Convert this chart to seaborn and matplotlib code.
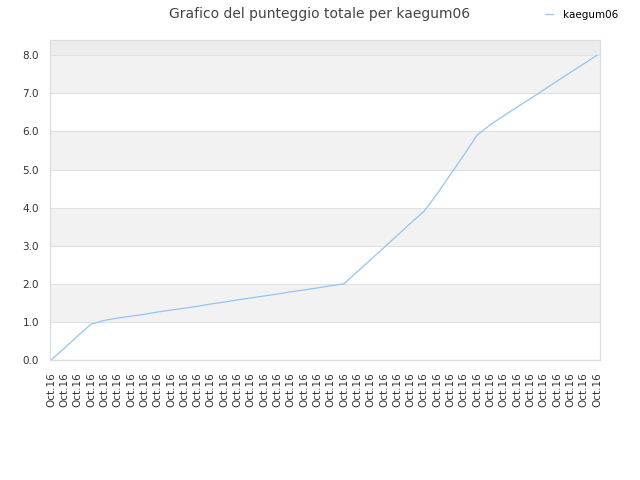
import matplotlib
matplotlib.use("Agg")
import matplotlib.pyplot as plt
import seaborn as sns
import pandas as pd

# data (42 points, all labelled Oct.16)
player = "kaegum06"
labels = ["Oct.16"] * 42
scores = [0.0, 0.31, 0.63, 0.94, 1.04, 1.10, 1.15, 1.20, 1.26, 1.31,
          1.36, 1.41, 1.47, 1.52, 1.58, 1.63, 1.68, 1.73, 1.79, 1.84,
          1.89, 1.95, 2.0, 2.32, 2.63, 2.95, 3.27, 3.59, 3.90, 4.36,
          4.87, 5.38, 5.90, 6.18, 6.41, 6.64, 6.86, 7.09, 7.32, 7.55,
          7.77, 8.0]
yticks = [0, 1, 2, 3, 4, 5, 6, 7, 8]

df = pd.DataFrame({"idx": range(len(scores)), "score": scores, "player": player})

sns.set_style("white")
plt.rcParams['font.family'] = ['DejaVu Sans']

fig = plt.figure(figsize=(6.4, 4.8), dpi=100)
ax = fig.add_axes([50 / 640, 1 - 360 / 480, 550 / 640, 320 / 480])

# alternating background bands
for lo in [1, 3, 5, 7]:
    ax.axhspan(lo, lo + 1, color="#f2f2f2", zorder=0, lw=0)
ax.axhspan(8, 8.4, color="#ececec", zorder=0, lw=0)

sns.lineplot(data=df, x="idx", y="score", hue="player", palette=["#92c5f5"],
             linewidth=0.9, ax=ax)

ax.set_xlim(-0.08, 41.23)
ax.set_ylim(0, 8.4)
ax.set_yticks(yticks)
ax.set_yticklabels([f"{v:.1f}" for v in yticks], fontsize=7.5, color="#333333")
ax.set_xticks(range(len(labels)))
ax.set_xticklabels(labels, rotation=90, fontsize=7.5, color="#333333")
ax.tick_params(axis="x", length=0, pad=9)
ax.tick_params(axis="y", length=0, pad=8)
ax.set_xlabel("")
ax.set_ylabel("")
ax.yaxis.grid(True, color="#e0e0e0", lw=0.8)
ax.set_axisbelow(True)
for s in ax.spines.values():
    s.set_color("#dddddd")
    s.set_linewidth(0.9)

fig.suptitle("Grafico del punteggio totale per " + player, x=0.5, y=0.985,
             fontsize=10, color="#444444")

leg = ax.legend(loc="upper right", bbox_to_anchor=(0.978, 0.995),
                bbox_transform=fig.transFigure, frameon=False, fontsize=7.5,
                handlelength=0.8, handletextpad=1.0, borderaxespad=0.3)
for t in leg.get_texts():
    t.set_color("black")

fig.savefig("out.png", dpi=100)
